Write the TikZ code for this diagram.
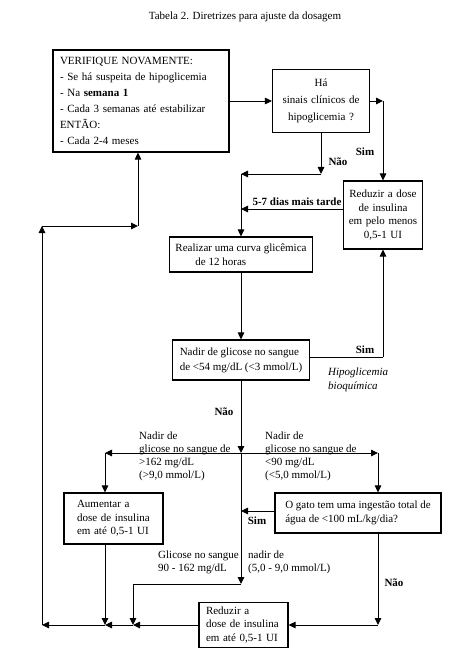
\documentclass[tikz,border=0pt]{standalone}
\usepackage{fontspec}
\setmainfont{Liberation Serif}
\usetikzlibrary{arrows.meta}
\tikzset{
  box/.style={draw, line width=1.1pt, inner sep=0pt, font=\fontsize{11}{13.5}\selectfont},
  arr/.style={line width=0.9pt, -{Triangle[length=7pt,width=6.5pt]}},
  ln/.style={line width=0.9pt},
  lbl/.style={inner sep=0pt, align=left, font=\fontsize{11}{13}\selectfont},
  yes/.style={inner sep=0pt, font=\fontsize{11}{13}\selectfont\bfseries},
}
\begin{document}
\begin{tikzpicture}[x=1pt,y=-1pt]
%\draw[help lines, gray, step=20] (0,0) grid (464,668);
\useasboundingbox (0,0) rectangle (464,668);
\node[lbl] (title) at (245,17) {Tabela 2. Diretrizes para ajuste da dosagem};
% boxes
\node[box, text width=162pt, inner xsep=7pt, minimum height=102pt, align=left, font=\fontsize{11}{16}\selectfont] (check) at (141,101) {VERIFIQUE NOVAMENTE:\\- Se há suspeita de hipoglicemia\\- Na \textbf{semana 1}\\- Cada 3 semanas até estabilizar\\ENTÃO:\\- Cada 2-4 meses};
\node[box, text width=85pt, inner xsep=6pt, minimum height=63pt, align=center, font=\fontsize{11}{17}\selectfont] (signs) at (321,101) {Há\\sinais clínicos de\\hipoglicemia ?};
\node[box, text width=72pt, inner xsep=3.5pt, minimum height=68pt, align=center] (cut1) at (383,215) {Reduzir a dose\\de insulina\\em pelo menos\\0,5-1 UI};
\node[box, minimum width=143pt, minimum height=35pt, align=left] (curve) at (241,254.5) {Realizar uma curva glicêmica\\\hspace*{20pt}de 12 horas};
\node[box, minimum width=137pt, minimum height=40pt, align=left, font=\fontsize{11}{15}\selectfont] (nadir) at (241,360) {Nadir de glicose no sangue\\de <54 mg/dL (<3 mmol/L)};
\node[box, text width=73pt, inner xsep=13pt, minimum height=51pt, align=left] (raise) at (113.5,518.5) {Aumentar a\\dose de insulina\\em até 0,5-1 UI};
\node[box, minimum width=166pt, minimum height=40pt, align=left] (water) at (358,513) {O gato tem uma ingestão total de\\água de <100 mL/kg/dia?};
\node[box, text width=75pt, inner xsep=7pt, minimum height=45pt, align=left] (cut2) at (243.5,625) {Reduzir a\\dose de insulina\\em até 0,5-1 UI};
% corners
\coordinate (r1) at (383,101);
\coordinate (n1) at (321,174);
\coordinate (n2) at (241,174);
\coordinate (d1) at (241,209);
\coordinate (s1) at (383,357);
\coordinate (m1) at (241,453);
\coordinate (l1) at (105,453);
\coordinate (r2) at (378,453);
\coordinate (s2) at (241,511);
\coordinate (m2) at (241,584);
\coordinate (m3) at (133,584);
\coordinate (m4) at (133,625);
\coordinate (l2) at (105,625);
\coordinate (w1) at (378,625);
\coordinate (b0) at (42,625);
\coordinate (u1) at (42,226);
\coordinate (u2) at (138,226);
% connectors
\draw[arr] (check) -- (signs);
\draw[arr] (signs) -- (r1);
\draw[arr] (r1) -- (cut1);
\draw[arr] (signs) -- (n1);
\draw[arr] (n1) -- (n2);
\draw[arr] (n2) -- (curve);
\draw[arr] (cut1.west |- d1) -- (d1);
\draw[arr] (curve) -- (nadir);
\draw[ln] (nadir.east |- s1) -- (s1);
\draw[arr] (s1) -- (cut1);
\draw[arr] (nadir) -- (m1);
\draw[arr] (m1) -- (l1);
\draw[arr] (m1) -- (r2);
\draw[arr] (l1) -- (raise.north -| l1);
\draw[arr] (r2) -- (water.north -| r2);
\draw[arr] (m1) -- (m2);
\draw[ln] (m2) -- (m3);
\draw[arr] (m3) -- (m4);
\draw[arr] (water.west |- s2) -- (s2);
\draw[arr] (water.south -| w1) -- (w1);
\draw[arr] (w1) -- (cut2);
\draw[arr] (raise.south -| l2) -- (l2);
\draw[arr] (cut2) -- (m4);
\draw[arr] (m4) -- (l2);
\draw[arr] (l2) -- (b0);
\draw[arr] (b0) -- (u1);
\draw[arr] (u1) -- (u2);
\draw[arr] (u2) -- (check.south -| u2);
% labels
\node[yes] (sim1) at (365,152) {Sim};
\node[yes] (nao1) at (338,162) {Não};
\node[yes] (later) at (297,202) {5-7 dias mais tarde};
\node[yes] (sim2) at (365,350) {Sim};
\node[lbl, anchor=west, font=\fontsize{11}{14}\selectfont\itshape] (bio) at (328,380) {Hipoglicemia\\bioquímica};
\node[yes] (nao2) at (224,412) {Não};
\node[lbl, anchor=west] (high) at (139,456.5) {Nadir de\\glicose no sangue de\\>162 mg/dL\\(>9,0 mmol/L)};
\node[lbl, anchor=west] (low) at (265,456) {Nadir de\\glicose no sangue de\\<90 mg/dL\\(<5,0 mmol/L)};
\node[yes] (sim3) at (257,521) {Sim};
\node[lbl, anchor=west] (mid1) at (158,562) {Glicose no sangue\\90 - 162 mg/dL};
\node[lbl, anchor=west] (mid2) at (248,562) {nadir de\\(5,0 - 9,0 mmol/L)};
\node[yes] (nao3) at (394,583) {Não};
\end{tikzpicture}
\end{document}
